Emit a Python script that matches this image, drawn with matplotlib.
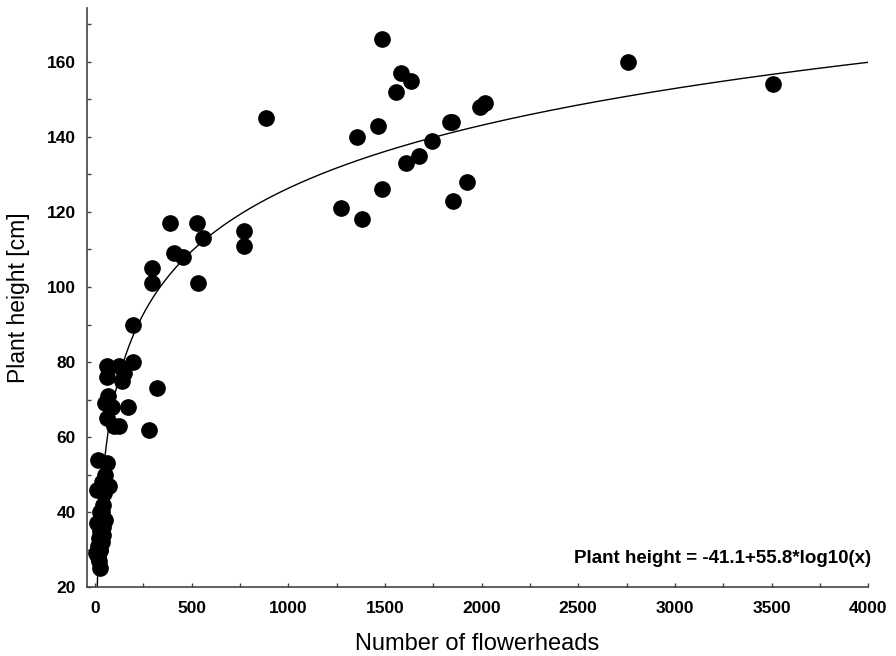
import numpy as np
import matplotlib
matplotlib.use("Agg")
import matplotlib.pyplot as plt

# number of flowerheads and plant height [cm]
flowerheads = [
    1485, 1583, 1635, 1558, 1464, 1356, 1837, 1845, 1992, 2018,
    1744, 1677, 1609, 1485, 1273, 1382, 1925, 1852, 2760, 3510,
    885, 388, 528, 295, 295, 409, 455, 559, 533, 771, 771, 197,
    62, 124, 197, 62, 140, 150, 320, 67, 52, 90, 171, 62, 100, 125, 279,
    16, 62, 52, 36, 72, 10, 47, 41, 26, 36, 52, 10, 41, 26, 41, 21,
    36, 15, 26, 5, 15, 26, 21, 26,
]
height = [
    166, 157, 155, 152, 143, 140, 144, 144, 148, 149,
    139, 135, 133, 126, 121, 118, 128, 123, 160, 154,
    145, 117, 117, 105, 101, 109, 108, 113, 101, 115, 111, 90,
    79, 79, 80, 76, 75, 77, 73, 71, 69, 68, 68, 65, 63, 63, 62,
    54, 53, 50, 48, 47, 46, 45, 42, 40, 40, 38, 37, 36, 35, 34, 33,
    32, 31, 30, 29, 28, 30, 27, 25,
]

# fitted curve
a, b = -41.1, 55.8

plt.rcParams['font.family'] = ['Liberation Sans', 'DejaVu Sans']

fig = plt.figure(figsize=(8.96, 6.56), dpi=100)
ax = fig.add_axes([0.097, 0.105, 0.872, 0.883])

xs = np.linspace(12.4, 4000, 800)
ax.plot(xs, a + b * np.log10(xs), color='black', lw=1.0, zorder=2)
ax.plot(flowerheads, height, 'o', color='black', ms=11, zorder=3)

ax.set_xlim(-41, 4000)
ax.set_ylim(20, 174.4)

ax.set_xticks(np.arange(0, 4001, 500))
ax.set_xticks(np.arange(250, 4000, 500), minor=True)
ax.set_yticks(np.arange(20, 161, 20))
ax.set_yticks(np.arange(30, 171, 20), minor=True)

for side in ['top', 'right']:
    ax.spines[side].set_visible(False)
for side in ['left', 'bottom']:
    ax.spines[side].set_color('#444444')
    ax.spines[side].set_linewidth(1.2)

ax.tick_params(which='both', direction='in', length=3, width=1, color='#444444')
ax.tick_params(axis='y', pad=8)
ax.tick_params(axis='x', pad=10)
for lab in ax.get_xticklabels() + ax.get_yticklabels():
    lab.set_fontsize(12.5)
    lab.set_fontweight('bold')

ax.set_xlabel('Number of flowerheads', fontsize=17, labelpad=12)
ax.set_ylabel('Plant height [cm]', fontsize=16.5, labelpad=12)

ax.text(1.004, 0.035, 'Plant height = -41.1+55.8*log10(x)', transform=ax.transAxes,
        ha='right', va='bottom', fontsize=13.5, fontweight='bold')

fig.savefig('out.png', dpi=100)
